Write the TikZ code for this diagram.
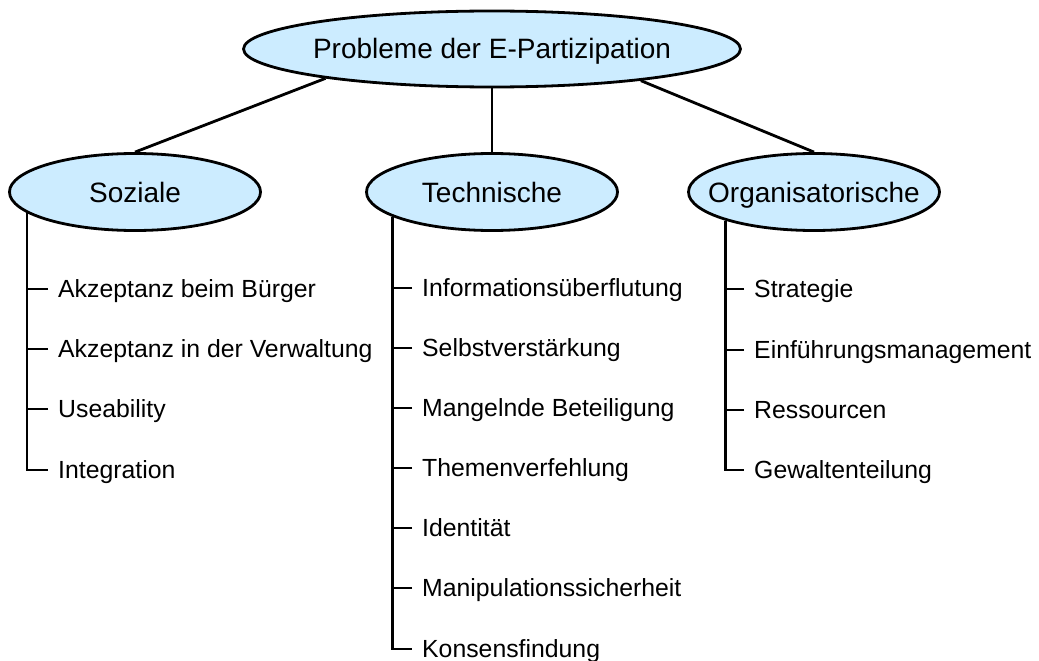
\documentclass[tikz,border=0pt]{standalone}
\usepackage{fontspec}
\setmainfont{Liberation Sans}
\usetikzlibrary{shapes.geometric}
\definecolor{ellfill}{RGB}{204,236,255}
\tikzset{
  conn/.style={line width=2.8pt, line cap=butt, line join=miter},
  ell/.style={ellipse, draw, line width=2.8pt, fill=ellfill, inner sep=0pt},
  head/.style={font=\fontsize{28}{32}\selectfont, inner sep=0pt, text height=20pt, text depth=0pt},
  item/.style={font=\fontsize{24.8}{28}\selectfont, anchor=west, inner xsep=10pt, inner ysep=0pt, text height=17.7pt, text depth=0pt},
}
\begin{document}
\begin{tikzpicture}[x=1pt,y=-1pt]
\useasboundingbox (0,0) rectangle (1039,661);
\fill[white] (0,0) rectangle (1039,661);

% ellipses
\node[ell, minimum width=497pt, minimum height=76pt] (top) at (492,49) {};
\node[head] (toptext) at (top.center) {Probleme der E-Partizipation};

\node[ell, minimum width=251pt, minimum height=77pt] (soz) at (135,192) {};
\node[head] (soztext) at (soz.center) {Soziale};

\node[ell, minimum width=251pt, minimum height=77pt] (tech) at (492,192) {};
\node[head] (techtext) at (tech.center) {Technische};

\node[ell, minimum width=251pt, minimum height=77pt] (org) at (814,192) {};
\node[head] (orgtext) at (org.center) {Organisatorische};

% connectors from top
\draw[conn] (top.190) -- (soz.north);
\draw[conn] (top.south) -- (tech.north);
\draw[conn] (top.348) -- (org.north);

% trunk start points
\coordinate (sT) at (soz.191);
\coordinate (tT) at (tech.194);
\coordinate (oT) at (org.198);

% Soziale items
\node[item] (s1) at (48,289) {Akzeptanz beim Bürger};
\node[item] (s2) at (48,349) {Akzeptanz in der Verwaltung};
\node[item] (s3) at (48,409) {Useability};
\node[item] (s4) at (48,470) {Integration};
\draw[conn] (sT) |- (s4.west);
\foreach \n in {s1,s2,s3}{\draw[conn] (\n.west) -- (\n.west -| sT);}

% Technische items
\node[item] (t1) at (412,288) {Informationsüberflutung};
\node[item] (t2) at (412,348) {Selbstverstärkung};
\node[item] (t3) at (412,408) {Mangelnde Beteiligung};
\node[item] (t4) at (412,468) {Themenverfehlung};
\node[item] (t5) at (412,528) {Identität};
\node[item] (t6) at (412,588) {Manipulationssicherheit};
\node[item] (t7) at (412,649) {Konsensfindung};
\draw[conn] (tT) |- (t7.west);
\foreach \n in {t1,t2,t3,t4,t5,t6}{\draw[conn] (\n.west) -- (\n.west -| tT);}

% Organisatorische items
\node[item] (o1) at (744,289) {Strategie};
\node[item] (o2) at (744,350) {Einführungsmanagement};
\node[item] (o3) at (744,410) {Ressourcen};
\node[item] (o4) at (744,470) {Gewaltenteilung};
\draw[conn] (oT) |- (o4.west);
\foreach \n in {o1,o2,o3}{\draw[conn] (\n.west) -- (\n.west -| oT);}
\end{tikzpicture}
\end{document}
